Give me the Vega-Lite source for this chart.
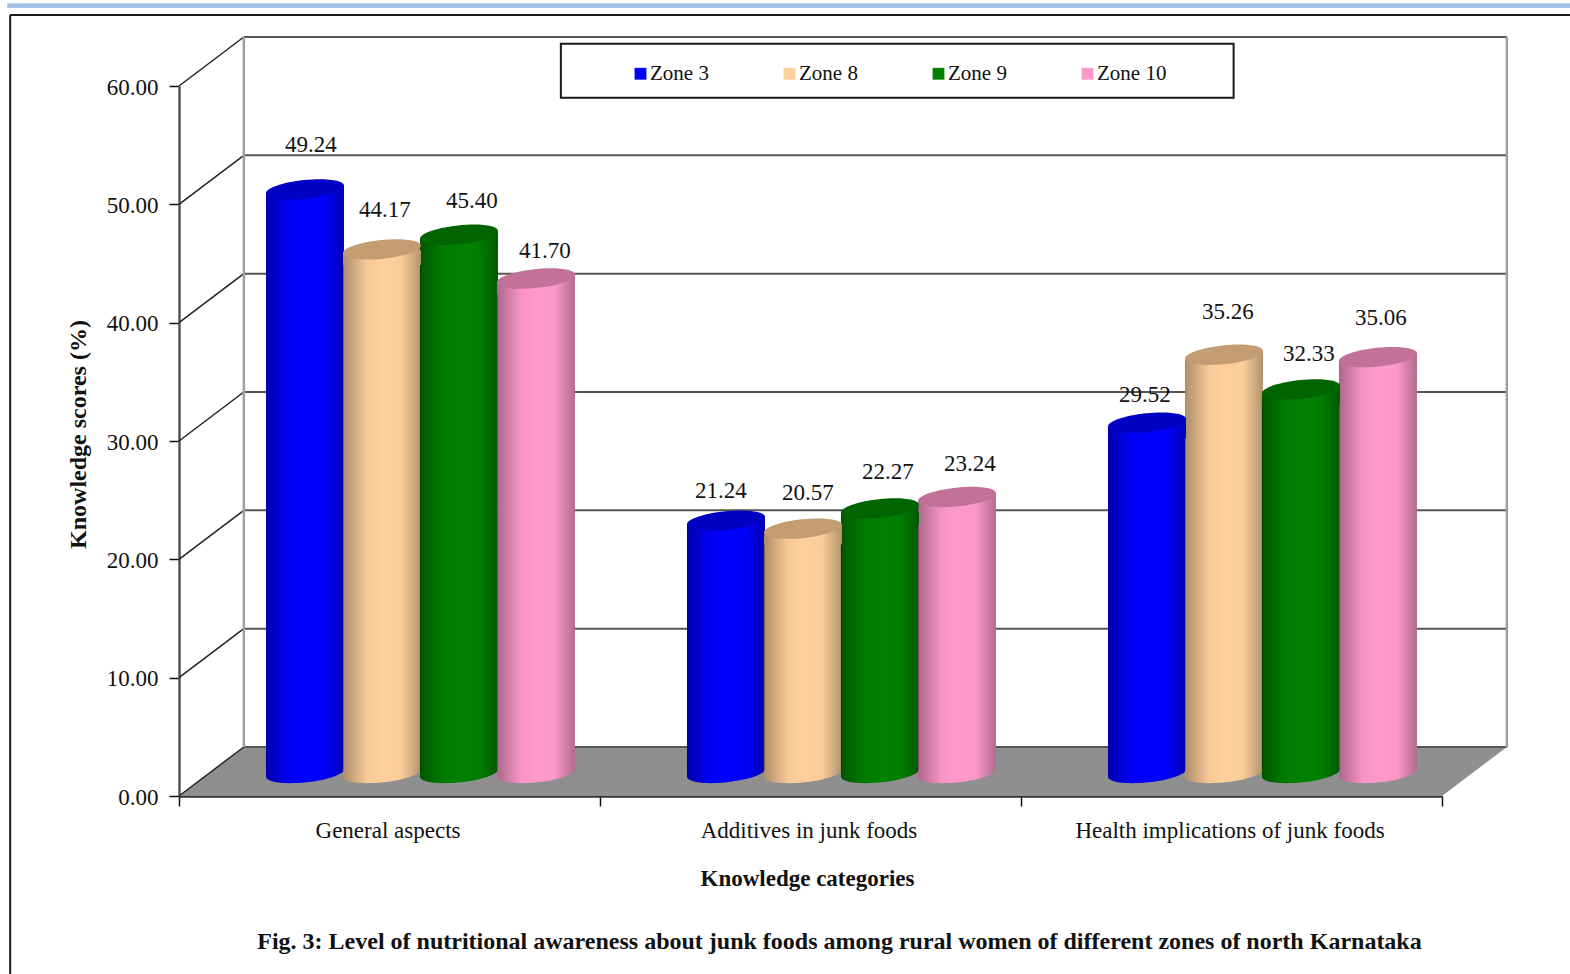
{
  "$schema": "https://vega.github.io/schema/vega-lite/v6.json",
  "width": 1263,
  "height": 710,
  "autosize": "none",
  "padding": {"left": 179, "top": 86, "right": 128, "bottom": 178},
  "background": "white",
  "config": {
    "font": "Liberation Serif",
    "view": {"stroke": null},
    "text": {"font": "Liberation Serif"}
  },
  "title": {
    "text": "Fig. 3: Level of nutritional awareness about junk foods among rural women of different zones of north Karnataka",
    "orient": "bottom",
    "anchor": "middle",
    "dx": 29,
    "offset": -46,
    "font": "Liberation Serif",
    "fontSize": 24,
    "fontWeight": "bold",
    "color": "#111"
  },
  "datasets": {
    "scores": [
      {"category": "General aspects", "zone": "Zone 3", "score": 49.24},
      {"category": "General aspects", "zone": "Zone 8", "score": 44.17},
      {"category": "General aspects", "zone": "Zone 9", "score": 45.40},
      {"category": "General aspects", "zone": "Zone 10", "score": 41.70},
      {"category": "Additives in junk foods", "zone": "Zone 3", "score": 21.24},
      {"category": "Additives in junk foods", "zone": "Zone 8", "score": 20.57},
      {"category": "Additives in junk foods", "zone": "Zone 9", "score": 22.27},
      {"category": "Additives in junk foods", "zone": "Zone 10", "score": 23.24},
      {"category": "Health implications of junk foods", "zone": "Zone 3", "score": 29.52},
      {"category": "Health implications of junk foods", "zone": "Zone 8", "score": 35.26},
      {"category": "Health implications of junk foods", "zone": "Zone 9", "score": 32.33},
      {"category": "Health implications of junk foods", "zone": "Zone 10", "score": 35.06}
    ],
    "grid": [
      {"grid": 0, "back": 4.14},
      {"grid": 10, "back": 14.14},
      {"grid": 20, "back": 24.14},
      {"grid": 30, "back": 34.14},
      {"grid": 40, "back": 44.14},
      {"grid": 50, "back": 54.14},
      {"grid": 60, "back": 64.14}
    ],
    "floor": [
      {"u": 0, "low": 0, "high": 0},
      {"u": 0.154, "low": 0, "high": 4.14},
      {"u": 3, "low": 0, "high": 4.14},
      {"u": 3.154, "low": 4.14, "high": 4.14}
    ]
  },
  "resolve": {"scale": {"x": "independent"}, "axis": {"y": "independent"}},
  "layer": [
    {
      "layer": [
        {
          "data": {"values": [{}]},
          "mark": {"type": "rect", "fill": "#a3bfe6"},
          "encoding": {
            "x": {"datum": -0.408, "type": "quantitative", "scale": {"domain": [0, 3], "nice": false, "zero": false}, "axis": null},
            "x2": {"datum": 3.304},
            "y": {"datum": 67.0, "type": "quantitative", "scale": {"domain": [0, 60], "nice": false}, "axis": null},
            "y2": {"datum": 66.6}
          }
        },
        {
          "data": {"values": [{}]},
          "mark": {"type": "rule", "color": "#1a1a1a", "strokeWidth": 2},
          "encoding": {
            "x": {"datum": -0.401, "type": "quantitative", "axis": null},
            "x2": {"datum": 3.304},
            "y": {"datum": 66.0, "type": "quantitative", "axis": null}
          }
        },
        {
          "data": {"values": [{}]},
          "mark": {"type": "rule", "color": "#1a1a1a", "strokeWidth": 2},
          "encoding": {
            "x": {"datum": -0.401, "type": "quantitative", "axis": null},
            "y": {"datum": 66.0, "type": "quantitative", "axis": null},
            "y2": {"datum": -15.1}
          }
        },
        {
          "data": {"name": "floor"},
          "mark": {"type": "area", "color": "#8f8f8f"},
          "encoding": {
            "x": {"field": "u", "type": "quantitative", "axis": null},
            "y": {"field": "low", "type": "quantitative", "axis": null},
            "y2": {"field": "high"}
          }
        },
        {
          "data": {"name": "grid"},
          "mark": {"type": "rule", "color": "#222", "strokeWidth": 1.5},
          "encoding": {
            "x": {"datum": 0, "type": "quantitative", "axis": null},
            "x2": {"datum": 0.154},
            "y": {"field": "grid", "type": "quantitative", "axis": null},
            "y2": {"field": "back"}
          }
        },
        {
          "data": {"name": "grid"},
          "mark": {"type": "rule", "color": "#555", "strokeWidth": 2},
          "encoding": {
            "x": {"datum": 0.154, "type": "quantitative", "axis": null},
            "x2": {"datum": 3.154},
            "y": {"field": "back", "type": "quantitative", "axis": null}
          }
        },
        {
          "data": {"values": [{"edge": 0.154}, {"edge": 3.154}]},
          "mark": {"type": "rule", "color": "#a0a0a0", "strokeWidth": 2.5},
          "encoding": {
            "x": {"field": "edge", "type": "quantitative", "axis": null},
            "y": {"datum": 4.14, "type": "quantitative", "axis": null},
            "y2": {"datum": 64.14}
          }
        },
        {
          "data": {"values": [{}]},
          "mark": {"type": "rect", "fill": "white", "stroke": "#1a1a1a", "strokeWidth": 2},
          "encoding": {
            "x": {"datum": 0.907, "type": "quantitative", "axis": null},
            "x2": {"datum": 2.505},
            "y": {"datum": 63.57, "type": "quantitative", "axis": null},
            "y2": {"datum": 59.0}
          }
        }
      ]
    },
    {
      "data": {"name": "scores"},
      "encoding": {
        "x": {
          "field": "category",
          "type": "nominal",
          "scale": {"domain": ["General aspects", "Additives in junk foods", "Health implications of junk foods"], "padding": 0},
          "axis": {
            "title": "Knowledge categories",
            "titleFont": "Liberation Serif",
            "titleFontSize": 23,
            "titleFontWeight": "bold",
            "titleColor": "#111",
            "titlePadding": 25,
            "titleX": 628,
            "labelFont": "Liberation Serif",
            "labelFontSize": 23,
            "labelColor": "#111",
            "labelAngle": 0,
            "labelOffset": -2,
            "labelPadding": 13,
            "labelLimit": 500,
            "tickBand": "extent",
            "tickSize": 10,
            "tickColor": "#111",
            "tickWidth": 1.5,
            "domainColor": "#333",
            "domainWidth": 2.5
          }
        },
        "xOffset": {
          "field": "zone",
          "type": "nominal",
          "scale": {"domain": ["Zone 3", "Zone 8", "Zone 9", "Zone 10"], "paddingInner": 0, "paddingOuter": 0.734, "align": 0.774}
        }
      },
      "layer": [
        {
          "mark": {"type": "point", "filled": true, "opacity": 1, "size": 6084, "yOffset": -23, "shape": "M-1,-0.4 L1,-0.4 L1,-0.105 A1.005,0.24 -6 0 1 -1,0.105 Z"},
          "encoding": {
            "y": {
              "datum": 0,
              "type": "quantitative",
              "scale": {"domain": [0, 60], "nice": false},
              "axis": {
                "title": "Knowledge scores (%)",
                "titleFont": "Liberation Serif",
                "titleFontSize": 24,
                "titleFontWeight": "bold",
                "titleColor": "#111",
                "titleX": -89,
                "titleY": 348,
                "values": [0, 10, 20, 30, 40, 50, 60],
                "format": ".2f",
                "labelFont": "Liberation Serif",
                "labelFontSize": 23,
                "labelColor": "#111",
                "labelPadding": 11,
                "labelOffset": 1,
                "tickSize": 10,
                "tickColor": "#111",
                "tickWidth": 1.5,
                "domainColor": "#555",
                "domainWidth": 2.5,
                "grid": false
              }
            },
            "color": {
              "field": "zone",
              "type": "nominal",
              "scale": {"domain": ["Zone 3", "Zone 8", "Zone 9", "Zone 10"], "range": ["#0000ff", "#ffd09c", "#008000", "#ff99cc"]},
              "legend": {
                "title": null,
                "orient": "none",
                "legendX": 451,
                "legendY": -23,
                "direction": "horizontal",
                "columns": 4,
                "columnPadding": 70,
                "symbolType": "square",
                "symbolSize": 140,
                "symbolStrokeWidth": 0,
                "labelFont": "Liberation Serif",
                "labelFontSize": 21,
                "labelColor": "#111",
                "labelOffset": -1,
                "padding": 0
              }
            }
          }
        },
        {
          "mark": {
            "type": "point", "filled": true, "opacity": 1, "size": 6084, "yOffset": -23,
            "shape": "M-1,-0.4 L1,-0.4 L1,-0.105 A1.005,0.24 -6 0 1 -1,0.105 Z",
            "fill": {"gradient": "linear", "x1": 0, "y1": 0, "x2": 1, "y2": 0, "stops": [
              {"offset": 0, "color": "rgba(0,0,0,0.32)"},
              {"offset": 0.3, "color": "rgba(0,0,0,0.04)"},
              {"offset": 0.5, "color": "rgba(0,0,0,0)"},
              {"offset": 0.75, "color": "rgba(0,0,0,0.02)"},
              {"offset": 1, "color": "rgba(0,0,0,0.3)"}
            ]}
          },
          "encoding": {"y": {"datum": 0, "type": "quantitative"}}
        },
        {
          "mark": {"type": "bar", "size": 78, "yOffset": -16, "y2Offset": -27},
          "encoding": {
            "y": {"field": "score", "type": "quantitative"},
            "y2": {"datum": 0},
            "color": {"field": "zone", "type": "nominal"}
          }
        },
        {
          "mark": {
            "type": "bar", "size": 78, "yOffset": -16, "y2Offset": -27,
            "fill": {"gradient": "linear", "x1": 0, "y1": 0, "x2": 1, "y2": 0, "stops": [
              {"offset": 0, "color": "rgba(0,0,0,0.32)"},
              {"offset": 0.3, "color": "rgba(0,0,0,0.04)"},
              {"offset": 0.5, "color": "rgba(0,0,0,0)"},
              {"offset": 0.75, "color": "rgba(0,0,0,0.02)"},
              {"offset": 1, "color": "rgba(0,0,0,0.3)"}
            ]}
          },
          "encoding": {
            "y": {"field": "score", "type": "quantitative"},
            "y2": {"datum": 0}
          }
        },
        {
          "mark": {"type": "point", "filled": true, "opacity": 1, "size": 6084, "yOffset": -24, "shape": "M-1,0.105 L1,-0.105 L1,0.4 L-1,0.4 Z"},
          "encoding": {
            "y": {"field": "score", "type": "quantitative"},
            "color": {"field": "zone", "type": "nominal"}
          }
        },
        {
          "mark": {
            "type": "point", "filled": true, "opacity": 1, "size": 6084, "yOffset": -24,
            "shape": "M-1,0.105 L1,-0.105 L1,0.4 L-1,0.4 Z",
            "fill": {"gradient": "linear", "x1": 0, "y1": 0, "x2": 1, "y2": 0, "stops": [
              {"offset": 0, "color": "rgba(0,0,0,0.32)"},
              {"offset": 0.3, "color": "rgba(0,0,0,0.04)"},
              {"offset": 0.5, "color": "rgba(0,0,0,0)"},
              {"offset": 0.75, "color": "rgba(0,0,0,0.02)"},
              {"offset": 1, "color": "rgba(0,0,0,0.3)"}
            ]}
          },
          "encoding": {"y": {"field": "score", "type": "quantitative"}}
        },
        {
          "mark": {"type": "point", "filled": true, "opacity": 1, "size": 6084, "yOffset": -24, "shape": "M-1,0.105 A1.005,0.24 -6 1 1 1,-0.105 A1.005,0.24 -6 1 1 -1,0.105 Z"},
          "encoding": {
            "y": {"field": "score", "type": "quantitative"},
            "fill": {"field": "zone", "type": "nominal", "legend": null, "scale": {"domain": ["Zone 3", "Zone 8", "Zone 9", "Zone 10"], "range": ["#0000c4", "#c49c72", "#006400", "#c27199"]}}
          }
        },
        {
          "encoding": {
            "y": {"field": "score", "type": "quantitative"},
            "text": {"field": "score", "type": "quantitative", "format": ".2f"},
            "color": {"value": "#111"}
          },
          "layer": [
            {"transform": [{"filter": {"field": "score", "equal": 49.24}}], "mark": {"type": "text", "fontSize": 23, "dx": 6, "dy": -68}},
            {"transform": [{"filter": {"field": "score", "equal": 44.17}}], "mark": {"type": "text", "fontSize": 23, "dx": 3, "dy": -63}},
            {"transform": [{"filter": {"field": "score", "equal": 45.40}}], "mark": {"type": "text", "fontSize": 23, "dx": 13, "dy": -58}},
            {"transform": [{"filter": {"field": "score", "equal": 41.70}}], "mark": {"type": "text", "fontSize": 23, "dx": 9, "dy": -52}},
            {"transform": [{"filter": {"field": "score", "equal": 21.24}}], "mark": {"type": "text", "fontSize": 23, "dx": -5, "dy": -54}},
            {"transform": [{"filter": {"field": "score", "equal": 20.57}}], "mark": {"type": "text", "fontSize": 23, "dx": 5, "dy": -60}},
            {"transform": [{"filter": {"field": "score", "equal": 22.27}}], "mark": {"type": "text", "fontSize": 23, "dx": 8, "dy": -60}},
            {"transform": [{"filter": {"field": "score", "equal": 23.24}}], "mark": {"type": "text", "fontSize": 23, "dx": 13, "dy": -57}},
            {"transform": [{"filter": {"field": "score", "equal": 29.52}}], "mark": {"type": "text", "fontSize": 23, "dx": -2, "dy": -52}},
            {"transform": [{"filter": {"field": "score", "equal": 35.26}}], "mark": {"type": "text", "fontSize": 23, "dx": 4, "dy": -67}},
            {"transform": [{"filter": {"field": "score", "equal": 32.33}}], "mark": {"type": "text", "fontSize": 23, "dx": 8, "dy": -59}},
            {"transform": [{"filter": {"field": "score", "equal": 35.06}}], "mark": {"type": "text", "fontSize": 23, "dx": 3, "dy": -63}}
          ]
        }
      ]
    }
  ]
}
